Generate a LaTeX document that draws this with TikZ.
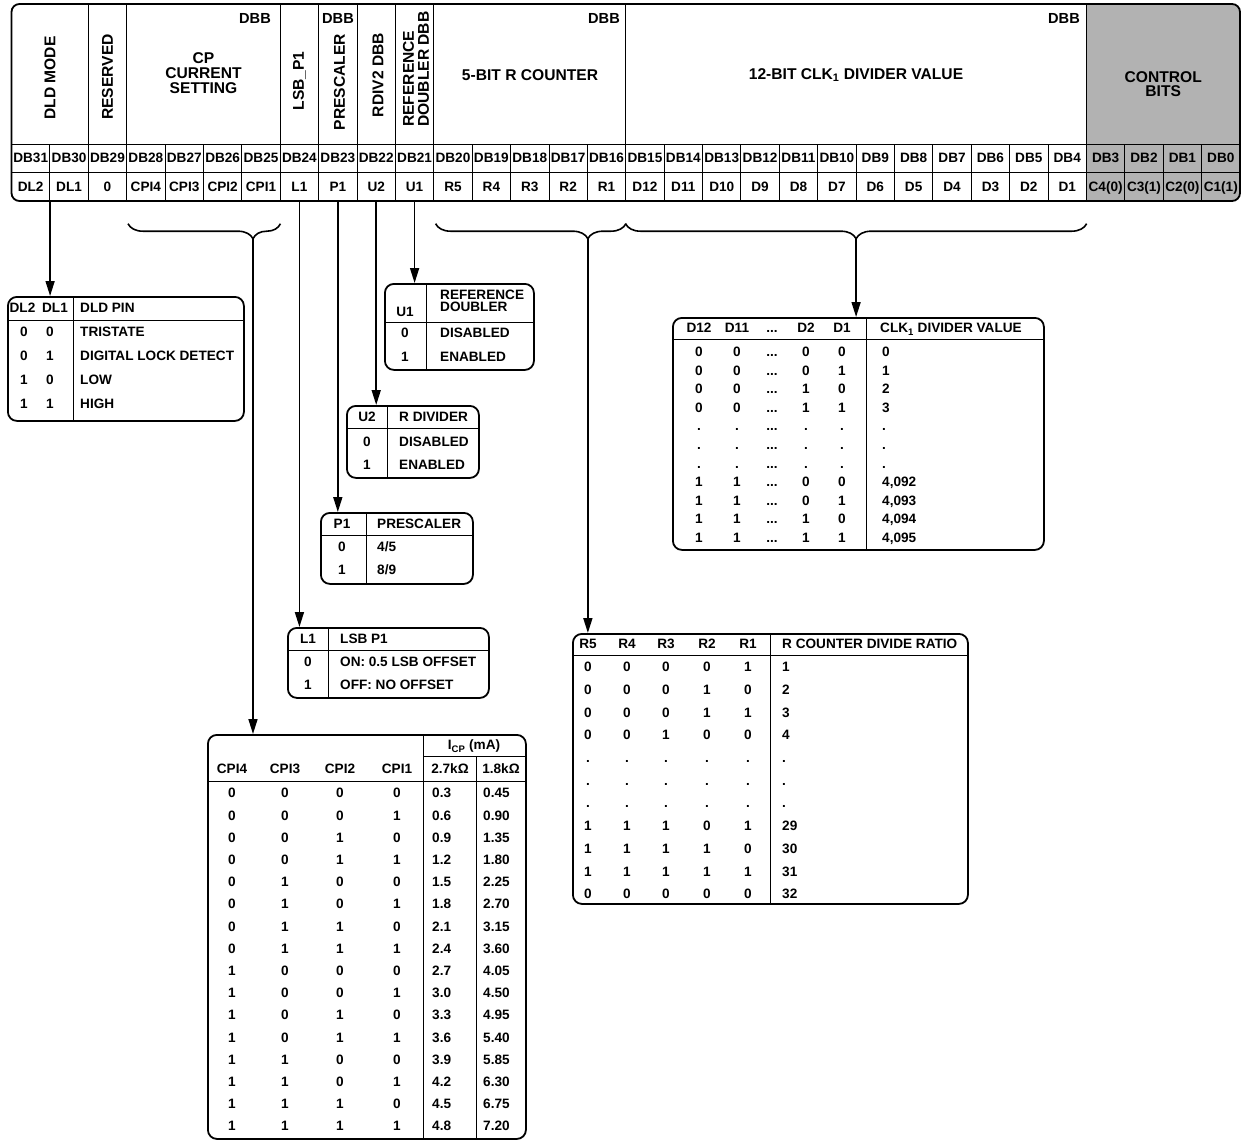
\documentclass[tikz,border=0pt]{standalone}
\usepackage{fontspec}
\setmainfont{Liberation Sans}
\usepackage{xcolor}
\usetikzlibrary{arrows.meta,decorations.pathreplacing,calc}
\definecolor{ctrlgray}{RGB}{178,178,178}

\begin{document}
\begin{tikzpicture}[
  x=1pt,y=-1pt,
  font=\bfseries,
  grid/.style={line width=0.9pt},
  frame/.style={line width=1.8pt,rounded corners=8pt},
  tbox/.style={draw,line width=1.8pt,rounded corners=9pt,inner sep=0pt,anchor=north west},
  hdr/.style={font=\bfseries\fontsize{15.6}{15.2}\selectfont,align=center,inner sep=0pt},
  dbb/.style={font=\bfseries\fontsize{14.6}{14.6}\selectfont,inner sep=0pt},
  sm/.style={font=\bfseries\fontsize{13.6}{12}\selectfont,inner sep=0pt,text height=9.7pt,text depth=0pt},
  cell/.style={sm,minimum width=38.39pt,minimum height=28pt},
  arr/.style={line width=1.6pt,-{Triangle[length=15pt,width=9pt]}},
  brc/.style={decorate,decoration={brace,mirror,amplitude=15pt,aspect=#1},line width=1.6pt}
]
\useasboundingbox (0,0) rectangle (1241,1141);

%%%%%%%%%%%%%%%%%%%%%%%%%%%%%%%%%%%%%%%%%%%%%%%%%%%%
% Register
%%%%%%%%%%%%%%%%%%%%%%%%%%%%%%%%%%%%%%%%%%%%%%%%%%%%
\begin{scope}
\clip[rounded corners=8pt] (11.5,4) rectangle (1240,201);
\fill[ctrlgray] ({11.5+38.39*28},4) rectangle (1240,201);
\end{scope}

\foreach \lab [count=\i from 0] in {DL2,DL1,0,CPI4,CPI3,CPI2,CPI1,L1,P1,U2,U1,R5,R4,R3,R2,R1,D12,D11,D10,D9,D8,D7,D6,D5,D4,D3,D2,D1,C4(0),C3(1),C2(0),C1(1)}{
  \pgfmathtruncatemacro\bit{31-\i}
  \node[cell] (db\bit) at ({11.5+38.39*(\i+0.5)},158) {DB\bit};
  \node[cell] (b\bit) at ({11.5+38.39*(\i+0.5)},186.5) {\lab};
}

\draw[grid] (11.5,144) -- (1240,144);
\draw[grid] (11.5,172) -- (1240,172);
\foreach \i in {1,...,31}
  \draw[grid] ({11.5+38.39*\i},144) -- ({11.5+38.39*\i},201);
\foreach \i in {2,3,7,8,9,10,11,16,28}
  \draw[grid] ({11.5+38.39*\i},4) -- ({11.5+38.39*\i},144);
\draw[frame] (11.5,4) rectangle (1240,201);

% field names
\node[hdr,rotate=90] (fdld) at (50,78) {DLD MODE};
\node[hdr,rotate=90] (fres) at (107.5,77) {RESERVED};
\node[hdr] (fcp) at (203.5,73) {CP\\CURRENT\\SETTING};
\node[dbb,anchor=east] (dbbcp) at (271,18) {DBB};
\node[hdr,rotate=90] (flsb) at (299.4,81) {LSB\_P1};
\node[dbb] (dbbpre) at (338,18) {DBB};
\node[hdr,rotate=90] (fpre) at (339.5,82) {PRESCALER};
\node[hdr,rotate=90] (frdiv) at (378,75) {RDIV2 DBB};
\node[hdr,rotate=90,anchor=west,align=left] (fref) at (416,127) {REFERENCE\\DOUBLER DBB};
\node[hdr] (frc) at (530,75) {5-BIT R COUNTER};
\node[dbb,anchor=east] (dbbrc) at (620,18) {DBB};
\node[hdr] (fclk) at (856,75) {12-BIT CLK\textsubscript{1} DIVIDER VALUE};
\node[dbb,anchor=east] (dbbclk) at (1080,18) {DBB};
\node[hdr,font=\bfseries\fontsize{15.6}{14}\selectfont] (fctl) at (1163.2,84) {CONTROL\\BITS};

% braces
\coordinate (cpL) at ([xshift=1.5pt,yshift=-23pt]b28.south west);
\coordinate (cpR) at ([yshift=-23pt]b25.south east);
\coordinate (rL) at ([xshift=2pt,yshift=-23pt]b20.south west);
\coordinate (rR) at ([yshift=-23pt]b16.south east);
\coordinate (dL) at ([yshift=-23pt]b15.south west);
\coordinate (dR) at ([yshift=-23pt]b4.south east);
\draw[brc=0.82] (cpL) -- (cpR);
\draw[brc=0.8] (rL) -- (rR);
\draw[brc=0.5] (dL) -- (dR);
\coordinate (cptip) at ($(cpL)!0.82!(cpR)+(0,15)$);
\coordinate (rtip) at ($(rL)!0.8!(rR)+(0,15)$);
\coordinate (dtip) at ($(dL)!0.5!(dR)+(0,15)$);

%%%%%%%%%%%%%%%%%%%%%%%%%%%%%%%%%%%%%%%%%%%%%%%%%%%%
% DLD pin
%%%%%%%%%%%%%%%%%%%%%%%%%%%%%%%%%%%%%%%%%%%%%%%%%%%%
\node[tbox,minimum width=236pt,minimum height=124pt] (dldtab) at (7,296) {};
\draw[grid] (73,296) -- (73,420);
\draw[grid] (7,320) -- (243,320);
\node[sm] (dlh1) at (22.5,308) {DL2};
\node[sm] (dlh2) at (55,308) {DL1};
\node[sm,anchor=west] (dlh3) at (80,308) {DLD PIN};
\foreach \ca/\cb/\txt [count=\k from 0] in {0/0/TRISTATE,0/1/DIGITAL LOCK DETECT,1/0/LOW,1/1/HIGH}{
  \node[sm] (dla\k) at (24,{332+24*\k}) {\ca};
  \node[sm] (dlb\k) at (50,{332+24*\k}) {\cb};
  \node[sm,anchor=west] (dlt\k) at (80,{332+24*\k}) {\txt};
}

%%%%%%%%%%%%%%%%%%%%%%%%%%%%%%%%%%%%%%%%%%%%%%%%%%%%
% Reference doubler
%%%%%%%%%%%%%%%%%%%%%%%%%%%%%%%%%%%%%%%%%%%%%%%%%%%%
\node[tbox,minimum width=149pt,minimum height=86pt] (u1tab) at (384,283) {};
\draw[grid] (426,283) -- (426,369);
\draw[grid] (384,322) -- (533,322);
\node[sm] (u1h1) at (405,312) {U1};
\node[sm,anchor=west] (u1h2) at (440,295) {REFERENCE};
\node[sm,anchor=west] (u1h3) at (440,307) {DOUBLER};
\foreach \ca/\txt [count=\k from 0] in {0/DISABLED,1/ENABLED}{
  \node[sm] (u1a\k) at (405,{333+24*\k}) {\ca};
  \node[sm,anchor=west] (u1t\k) at (440,{333+24*\k}) {\txt};
}

%%%%%%%%%%%%%%%%%%%%%%%%%%%%%%%%%%%%%%%%%%%%%%%%%%%%
% R divider
%%%%%%%%%%%%%%%%%%%%%%%%%%%%%%%%%%%%%%%%%%%%%%%%%%%%
\node[tbox,minimum width=132pt,minimum height=72pt] (u2tab) at (346,405) {};
\draw[grid] (387,405) -- (387,477);
\draw[grid] (346,428) -- (478,428);
\node[sm] (u2h1) at (367,417) {U2};
\node[sm,anchor=west] (u2h2) at (399,417) {R DIVIDER};
\foreach \ca/\txt [count=\k from 0] in {0/DISABLED,1/ENABLED}{
  \node[sm] (u2a\k) at (367,{442+22.5*\k}) {\ca};
  \node[sm,anchor=west] (u2t\k) at (399,{442+22.5*\k}) {\txt};
}

%%%%%%%%%%%%%%%%%%%%%%%%%%%%%%%%%%%%%%%%%%%%%%%%%%%%
% Prescaler
%%%%%%%%%%%%%%%%%%%%%%%%%%%%%%%%%%%%%%%%%%%%%%%%%%%%
\node[tbox,minimum width=152pt,minimum height=71pt] (p1tab) at (320,512) {};
\draw[grid] (366,512) -- (366,583);
\draw[grid] (320,535) -- (472,535);
\node[sm] (p1h1) at (342,524) {P1};
\node[sm,anchor=west] (p1h2) at (377,524) {PRESCALER};
\foreach \ca/\txt [count=\k from 0] in {0/4\slash 5,1/8\slash 9}{
  \node[sm] (p1a\k) at (342,{547+23*\k}) {\ca};
  \node[sm,anchor=west] (p1t\k) at (377,{547+23*\k}) {\txt};
}

%%%%%%%%%%%%%%%%%%%%%%%%%%%%%%%%%%%%%%%%%%%%%%%%%%%%
% LSB P1
%%%%%%%%%%%%%%%%%%%%%%%%%%%%%%%%%%%%%%%%%%%%%%%%%%%%
\node[tbox,minimum width=201pt,minimum height=70pt] (l1tab) at (287,627) {};
\draw[grid] (328,627) -- (328,697);
\draw[grid] (287,650) -- (488,650);
\node[sm] (l1h1) at (308,639) {L1};
\node[sm,anchor=west] (l1h2) at (340,639) {LSB P1};
\foreach \ca/\txt [count=\k from 0] in {0/ON: 0.5 LSB OFFSET,1/OFF: NO OFFSET}{
  \node[sm] (l1a\k) at (308,{662+23*\k}) {\ca};
  \node[sm,anchor=west] (l1t\k) at (340,{662+23*\k}) {\txt};
}

%%%%%%%%%%%%%%%%%%%%%%%%%%%%%%%%%%%%%%%%%%%%%%%%%%%%
% CP current
%%%%%%%%%%%%%%%%%%%%%%%%%%%%%%%%%%%%%%%%%%%%%%%%%%%%
\node[tbox,minimum width=318pt,minimum height=404pt] (cpitab) at (207,734) {};
\draw[grid] (423,734) -- (423,1138);
\draw[grid] (476,756) -- (476,1138);
\draw[grid] (423,756) -- (525,756);
\draw[grid] (207,781) -- (525,781);
\node[sm] (cpih0) at (474,745) {I\textsubscript{CP} (mA)};
\node[sm] (cpih1) at (232,769) {CPI4};
\node[sm] (cpih2) at (285,769) {CPI3};
\node[sm] (cpih3) at (340,769) {CPI2};
\node[sm] (cpih4) at (397,769) {CPI1};
\node[sm] (cpih5) at (450,769) {2.7kΩ};
\node[sm] (cpih6) at (501,769) {1.8kΩ};
\foreach \ca/\cb/\cc/\cd/\ia/\ib [count=\k from 0] in {0/0/0/0/0.3/0.45,0/0/0/1/0.6/0.90,0/0/1/0/0.9/1.35,0/0/1/1/1.2/1.80,0/1/0/0/1.5/2.25,0/1/0/1/1.8/2.70,0/1/1/0/2.1/3.15,0/1/1/1/2.4/3.60,1/0/0/0/2.7/4.05,1/0/0/1/3.0/4.50,1/0/1/0/3.3/4.95,1/0/1/1/3.6/5.40,1/1/0/0/3.9/5.85,1/1/0/1/4.2/6.30,1/1/1/0/4.5/6.75,1/1/1/1/4.8/7.20}{
  \node[sm] (cpa\k) at (232,{793+22.2*\k}) {\ca};
  \node[sm] (cpb\k) at (285,{793+22.2*\k}) {\cb};
  \node[sm] (cpc\k) at (340,{793+22.2*\k}) {\cc};
  \node[sm] (cpd\k) at (397,{793+22.2*\k}) {\cd};
  \node[sm,anchor=west] (cpe\k) at (432,{793+22.2*\k}) {\ia};
  \node[sm,anchor=west] (cpf\k) at (483,{793+22.2*\k}) {\ib};
}

%%%%%%%%%%%%%%%%%%%%%%%%%%%%%%%%%%%%%%%%%%%%%%%%%%%%
% CLK1 divider
%%%%%%%%%%%%%%%%%%%%%%%%%%%%%%%%%%%%%%%%%%%%%%%%%%%%
\node[tbox,minimum width=371pt,minimum height=232pt] (clktab) at (672,317) {};
\draw[grid] (866,317) -- (866,549);
\draw[grid] (672,339) -- (1043,339);
\node[sm] (clkh1) at (699,328) {D12};
\node[sm] (clkh2) at (737,328) {D11};
\node[sm] (clkh3) at (772,328) {...};
\node[sm] (clkh4) at (806,328) {D2};
\node[sm] (clkh5) at (842,328) {D1};
\node[sm,anchor=west] (clkh6) at (880,328) {CLK\textsubscript{1} DIVIDER VALUE};
\foreach \ca/\cb/\cc/\cd/\val [count=\k from 0] in {0/0/0/0/0,0/0/0/1/1,0/0/1/0/2,0/0/1/1/3,./././././.,./././././.,./././././.,1/1/0/0/{4,092},1/1/0/1/{4,093},1/1/1/0/{4,094},1/1/1/1/{4,095}}{
  \node[sm] (cka\k) at (699,{351.7+18.6*\k}) {\ca};
  \node[sm] (ckb\k) at (737,{351.7+18.6*\k}) {\cb};
  \node[sm] (ckm\k) at (772,{351.7+18.6*\k}) {...};
  \node[sm] (ckc\k) at (806,{351.7+18.6*\k}) {\cc};
  \node[sm] (ckd\k) at (842,{351.7+18.6*\k}) {\cd};
  \node[sm,anchor=west] (ckv\k) at (882,{351.7+18.6*\k}) {\val};
}

%%%%%%%%%%%%%%%%%%%%%%%%%%%%%%%%%%%%%%%%%%%%%%%%%%%%
% R counter
%%%%%%%%%%%%%%%%%%%%%%%%%%%%%%%%%%%%%%%%%%%%%%%%%%%%
\node[tbox,minimum width=395pt,minimum height=270pt] (rtab) at (572,633) {};
\draw[grid] (770,633) -- (770,903);
\draw[grid] (572,655) -- (967,655);
\node[sm] (rh1) at (588,644) {R5};
\node[sm] (rh2) at (627,644) {R4};
\node[sm] (rh3) at (666,644) {R3};
\node[sm] (rh4) at (707,644) {R2};
\node[sm] (rh5) at (748,644) {R1};
\node[sm,anchor=west] (rh6) at (782,644) {R COUNTER DIVIDE RATIO};
\foreach \ca/\cb/\cc/\cd/\ce/\val [count=\k from 0] in {0/0/0/0/1/1,0/0/0/1/0/2,0/0/0/1/1/3,0/0/1/0/0/4,./././././.,./././././.,./././././.,1/1/1/0/1/29,1/1/1/1/0/30,1/1/1/1/1/31,0/0/0/0/0/32}{
  \node[sm] (ra\k) at (588,{666.7+22.73*\k}) {\ca};
  \node[sm] (rb\k) at (627,{666.7+22.73*\k}) {\cb};
  \node[sm] (rc\k) at (666,{666.7+22.73*\k}) {\cc};
  \node[sm] (rd\k) at (707,{666.7+22.73*\k}) {\cd};
  \node[sm] (re\k) at (748,{666.7+22.73*\k}) {\ce};
  \node[sm,anchor=west] (rv\k) at (782,{666.7+22.73*\k}) {\val};
}

%%%%%%%%%%%%%%%%%%%%%%%%%%%%%%%%%%%%%%%%%%%%%%%%%%%%
% Arrows
%%%%%%%%%%%%%%%%%%%%%%%%%%%%%%%%%%%%%%%%%%%%%%%%%%%%
\draw[arr] (b31.south east) -- (b31.south east |- dldtab.north);
\draw[arr] (b21.south) -- (b21.south |- u1tab.north);
\draw[arr] (b22.south) -- (b22.south |- u2tab.north);
\draw[arr] (b23.south) -- (b23.south |- p1tab.north);
\draw[arr] (b24.south) -- (b24.south |- l1tab.north);
\draw[arr] (cptip) -- (cptip |- cpitab.north);
\draw[arr] (rtip) -- (rtip |- rtab.north);
\draw[arr] (dtip) -- (dtip |- clktab.north);

\end{tikzpicture}
\end{document}
